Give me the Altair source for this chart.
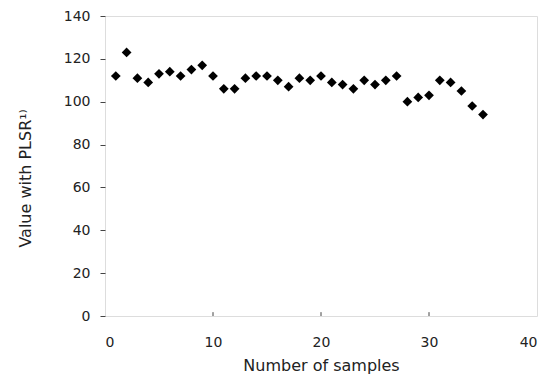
import altair as alt
import pandas as pd

samples = list(range(1, 36))
values = [112, 123, 111, 109, 113, 114, 112, 115, 117, 112,
          106, 106, 111, 112, 112, 110, 107, 111, 110, 112,
          109, 108, 106, 110, 108, 110, 112, 100, 102, 103,
          110, 109, 105, 98, 94]
x_ticks = [0, 10, 20, 30, 40]
y_ticks = [0, 20, 40, 60, 80, 100, 120, 140]

df = pd.DataFrame({"n": samples, "v": values})
tick_df = pd.DataFrame({"t": [10, 20, 30], "y0": [0, 0, 0], "y1": [1.8, 1.8, 1.8]})

FONT = "DejaVu Sans"

xs = alt.Scale(domain=[0, 40], nice=False)
ys = alt.Scale(domain=[0, 140], nice=False)

points = alt.Chart(df).mark_point(shape="diamond", filled=True, size=95, color="#000", opacity=1).encode(
    x=alt.X("n:Q", scale=xs, title="Number of samples",
            axis=alt.Axis(values=x_ticks, ticks=False, domain=False, grid=False,
                          labelPadding=19, titlePadding=8, labelFontSize=14,
                          titleFontSize=16, labelFont=FONT, titleFont=FONT,
                          labelColor="#222", titleColor="#222", titleFontWeight="normal")),
    y=alt.Y("v:Q", scale=ys, title="Value with PLSR¹⁾",
            axis=alt.Axis(values=y_ticks, ticks=True, tickSize=5, domain=False, grid=False,
                          labelPadding=10, titlePadding=30, labelFontSize=14,
                          titleFontSize=16, labelFont=FONT, titleFont=FONT,
                          titleY=162,
                          tickColor="#444", labelColor="#222", titleColor="#222",
                          titleFontWeight="normal")),
)

xt = alt.Chart(tick_df).mark_rule(color="#444", strokeWidth=1).encode(
    x=alt.X("t:Q", scale=xs),
    y=alt.Y("y0:Q", scale=ys),
    y2="y1:Q",
)

chart = alt.layer(points, xt).properties(
    width=432, height=300,
    autosize=alt.AutoSizeParams(type="none"),
    padding={"left": 97, "top": 8, "right": 8, "bottom": 62},
).configure_view(stroke="#555", strokeWidth=1, strokeDash=[6, 1]).configure(background="white")

chart.save("out.html", embed_options={"renderer": "svg", "actions": False})
